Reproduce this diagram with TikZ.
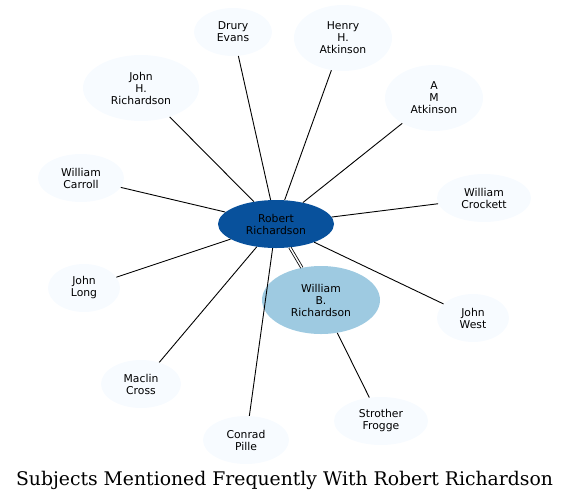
\documentclass[tikz,border=0pt]{standalone}
\usepackage{fontspec}
\setmainfont{DejaVu Serif}
\newfontfamily\labelfont{DejaVu Sans}
\usepackage{tikz}
\usetikzlibrary{shapes.geometric}
\definecolor{rrblue}{RGB}{8,81,156}
\definecolor{wbblue}{RGB}{158,202,225}
\definecolor{paleblue}{RGB}{247,251,255}

\begin{document}
\begin{tikzpicture}[x=1pt, y=-1pt,
  subj/.style={ellipse, fill=paleblue, inner sep=0pt, align=center,
    font=\labelfont\fontsize{10.8}{12}\selectfont},
  link/.style={black, line width=0.9pt}]
  \useasboundingbox (0,0) rectangle (569,501);
  % people
  \node[subj, fill=rrblue, minimum width=116, minimum height=48] (robert) at (276,224) {Robert\\Richardson};
  \node[subj, fill=wbblue, minimum width=118, minimum height=68] (williamb) at (321,300) {William\\B.\\Richardson};
  \node[subj, minimum width=78, minimum height=48] (drury) at (233,32) {Drury\\Evans};
  \node[subj, minimum width=98, minimum height=66] (henry) at (343,38) {Henry\\H.\\Atkinson};
  \node[subj, minimum width=116, minimum height=66] (johnh) at (141,88) {John\\H.\\Richardson};
  \node[subj, minimum width=98, minimum height=66] (am) at (434,98) {A\\M\\Atkinson};
  \node[subj, minimum width=86, minimum height=48] (carroll) at (81,178) {William\\Carroll};
  \node[subj, minimum width=94, minimum height=48] (crockett) at (484,198) {William\\Crockett};
  \node[subj, minimum width=72, minimum height=48] (long) at (84,288) {John\\Long};
  \node[subj, minimum width=72, minimum height=48] (west) at (473,318) {John\\West};
  \node[subj, minimum width=80, minimum height=48] (maclin) at (141,384) {Maclin\\Cross};
  \node[subj, minimum width=86, minimum height=48] (conrad) at (246,440) {Conrad\\Pille};
  \node[subj, minimum width=94, minimum height=48] (strother) at (381,421) {Strother\\Frogge};
  % links
  \foreach \other in {drury,henry,johnh,am,carroll,crockett,long,west,maclin,conrad}
    \draw[link] (robert) -- (\other);
  \draw[link, double, double distance=1.5pt, line width=0.8pt] (robert) -- (williamb);
  \draw[link] (williamb) -- (strother);
  \node[font=\fontsize{18.8}{22}\selectfont, anchor=base] (title) at (284.5,485) {Subjects Mentioned Frequently With Robert Richardson};
\end{tikzpicture}
\end{document}
